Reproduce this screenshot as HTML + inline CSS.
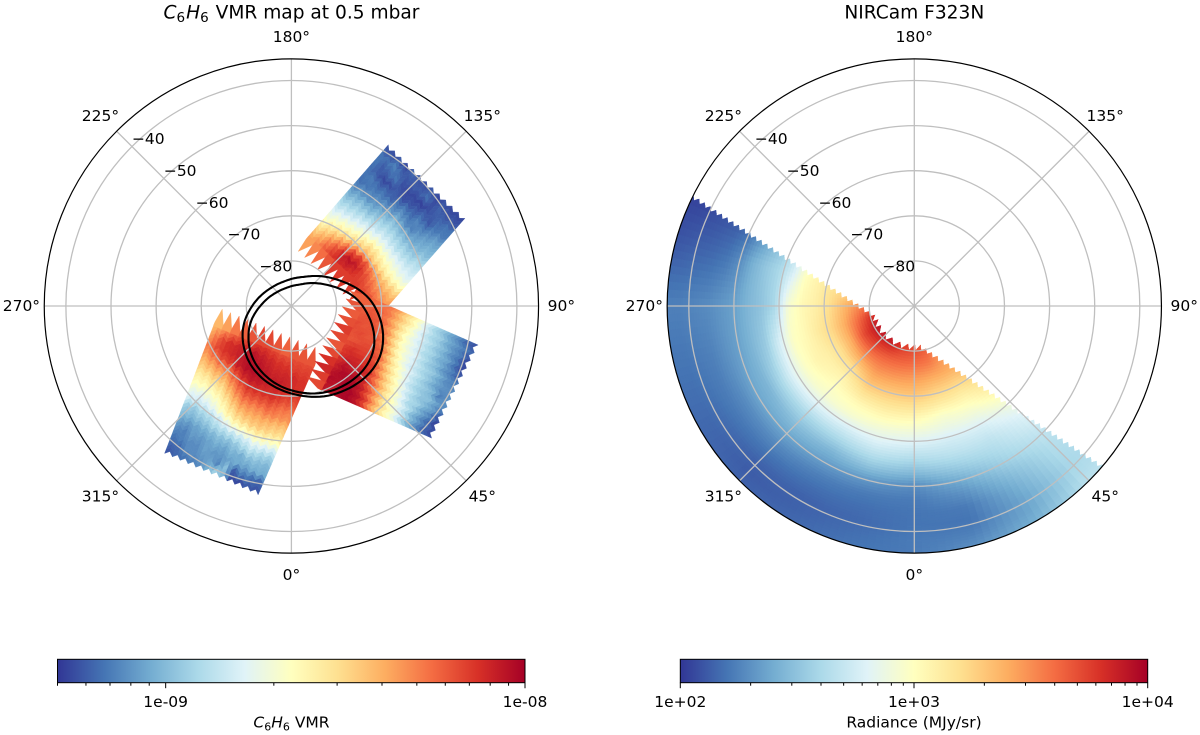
<!DOCTYPE html>
<html lang="en">
<head>
<meta charset="utf-8">
<title>C6H6 VMR map and NIRCam F323N radiance</title>
<style>
html,body{margin:0;padding:0;background:#fff;}
svg{display:block;}
text{font-family:"DejaVu Sans","Liberation Sans",sans-serif;fill:#000;}
</style>
</head>
<body>
<svg id="fig" xmlns="http://www.w3.org/2000/svg" width="1200" height="735" viewBox="0 0 1200 735">
  <defs>
    <clipPath id="limb-clip"><polygon id="limb-poly" points="0,0"></polygon></clipPath>
    <linearGradient id="cmap-grad" x1="0" y1="0" x2="1" y2="0"></linearGradient>
  </defs>
  <g id="panel-left"></g>
  <g id="panel-right"></g>
  <text x="291.5" y="18.5" text-anchor="middle" font-size="18.6"><tspan font-style="italic">C</tspan><tspan font-size="13.5" dy="3.5">6</tspan><tspan font-style="italic" dy="-3.5" dx="1">H</tspan><tspan font-size="13.5" dy="3.5">6</tspan><tspan dy="-3.5" dx="1"> VMR map at 0.5 mbar</tspan></text>
  <text x="914.3" y="18.5" text-anchor="middle" font-size="18.6">NIRCam F323N</text>
  <g id="cbar-left"></g>
  <g id="cbar-right"></g>
  <text x="291.5" y="727.5" text-anchor="middle" font-size="15.5"><tspan font-style="italic">C</tspan><tspan font-size="11" dy="3">6</tspan><tspan font-style="italic" dy="-3">H</tspan><tspan font-size="11" dy="3">6</tspan><tspan dy="-3"> VMR</tspan></text>
  <text x="914" y="727.5" text-anchor="middle" font-size="15.5">Radiance (MJy/sr)</text>
</svg>
<script>
// ---------- shared axis data ----------
const latRings = [-80, -70, -60, -50, -40];
const ringLabels = ['\u221280', '\u221270', '\u221260', '\u221250', '\u221240'];
const lonSpokes = [0, 45, 90, 135, 180, 225, 270, 315];
const lonLabels = ['0\u00b0', '45\u00b0', '90\u00b0', '135\u00b0', '180\u00b0', '225\u00b0', '270\u00b0', '315\u00b0'];
const cmapStops = ['#313695', '#4575b4', '#74add1', '#abd9e9', '#e0f3f8', '#ffffbf', '#fee090', '#fdae61', '#f46d43', '#d73027', '#a50026'];

// ---------- VMR colour axis ----------
const vmrMin = 5e-10;
const vmrMax = 1e-8;
const vmrMajorTicks = [1e-9, 1e-8];
const vmrMajorLabels = ['1e-09', '1e-08'];
const vmrMinorTicks = [5e-10, 6e-10, 7e-10, 8e-10, 9e-10, 2e-9, 3e-9, 4e-9, 5e-9, 6e-9, 7e-9, 8e-9, 9e-9];

// ---------- radiance colour axis ----------
const radMin = 100;
const radMax = 10000;
const radMajorTicks = [100, 1000, 10000];
const radMajorLabels = ['1e+02', '1e+03', '1e+04'];
const radMinorTicks = [200, 300, 400, 500, 600, 700, 800, 900, 2000, 3000, 4000, 5000, 6000, 7000, 8000, 9000];

// ---------- VMR swaths: footprint corners [lat, lon] and retrieved values ----------
// Values are percent along the logarithmic VMR colour range; rows run outer to inner.
const swath1Corners = [[-48.3, 149.0], [-46.9, 116.8], [-77.5, 174.7], [-71.5, 78.1]];
const swath1Values = [
  [5,4,6,3,8,5,4,6,3,5,3,3],
  [10,9,12,7,5,6,6,9,4,7,5,5],
  [10,6,8,10,4,3,3,2,4,6,8,10],
  [9,6,3,4,6,4,5,6,8,5,10,11],
  [10,11,8,9,7,10,12,9,13,11,14,17],
  [9,10,12,13,14,15,18,14,12,16,18,20],
  [14,16,15,17,20,22,25,22,20,19,21,23],
  [20,22,24,23,26,29,30,29,27,26,25,28],
  [27,28,30,32,33,35,37,36,33,32,31,33],
  [33,35,37,40,42,44,46,44,42,40,38,37],
  [40,43,46,48,51,55,58,55,50,47,44,42],
  [46,50,55,58,62,66,68,64,60,55,52,50],
  [54,60,66,72,80,86,88,82,74,68,64,62],
  [62,68,76,84,92,96,94,88,82,76,72,70],
  [70,74,82,88,92,92,90,88,86,82,78,75],
  [72,76,80,84,88,88,88,88,86,84,80,78]
];
const swath2Corners = [[-47.7, 78.2], [-47.3, 46.7], [-76.3, 105.9], [-72.8, 9.5]];
const swath2Values = [
  [5,8,4,3,6,12,14,15,14,8,3,4],
  [8,12,11,10,12,14,15,12,18,16,10,8],
  [14,16,15,18,16,20,18,22,24,20,17,15],
  [19,20,22,21,23,26,24,26,25,28,24,22],
  [25,27,26,28,27,29,30,29,31,30,34,33],
  [30,30,32,31,33,34,36,35,38,40,42,44],
  [38,36,37,38,40,39,42,44,47,49,50,52],
  [47,44,43,44,45,46,50,53,56,58,60,62],
  [55,53,50,50,52,56,60,64,67,70,72,74],
  [63,62,60,62,65,70,73,76,80,82,84,88],
  [72,70,72,74,78,82,85,88,90,92,94,96],
  [78,78,80,82,84,86,88,90,94,96,98,99],
  [80,82,84,85,84,86,88,92,94,98,99,98],
  [80,84,85,84,86,85,90,92,96,98,97,95],
  [82,82,84,86,85,84,88,90,92,95,98,96],
  [82,84,83,85,88,86,84,86,90,92,88,86]
];
const swath3Corners = [[-46.9, 319.3], [-47.5, 350.0], [-74.2, 271.8], [-78.2, 394.5]];
const swath3Values = [
  [5,8,10,12,14,20,28,22,4,3,6,5],
  [8,8,14,14,16,18,13,24,6,12,10,8],
  [10,12,14,14,18,16,16,18,20,18,20,20],
  [14,12,17,16,18,20,18,22,20,24,24,22],
  [18,16,18,20,22,24,24,26,30,33,30,28],
  [24,22,24,26,30,32,34,36,38,42,40,38],
  [28,26,30,32,36,42,48,50,52,54,52,50],
  [38,36,38,42,48,54,60,62,64,64,62,60],
  [43,42,45,48,54,62,68,70,70,70,68,66],
  [50,50,52,55,62,70,76,76,76,78,76,74],
  [55,56,60,62,70,78,84,84,84,84,80,78],
  [62,64,68,70,78,85,90,90,90,90,86,84],
  [68,72,76,78,86,92,95,94,92,92,90,88],
  [74,80,86,88,94,97,97,96,94,94,92,90],
  [78,86,90,92,95,97,96,94,92,92,92,90],
  [74,84,90,92,94,96,94,92,90,90,88,88],
  [70,76,82,86,88,90,90,88,86,86,86,86],
  [68,72,78,82,84,86,86,84,82,84,84,84]
];

// ---------- auroral oval contours: latitude at each longitude ----------
const ovalLons = [0, 30, 60, 90, 120, 150, 180, 210, 240, 270, 300, 330];
const ovalOuterLats = [-70.6, -68.0, -67.4, -71.6, -78.3, -82.4, -84.0, -84.3, -83.5, -81.3, -77.5, -73.6];
const ovalInnerLats = [-71.3, -69.0, -69.2, -74.2, -80.7, -84.3, -85.6, -85.8, -85.1, -83.1, -79.1, -74.7];

// ---------- radiance map: percent along logarithmic radiance range ----------
const radianceLats = [-83, -80, -77, -74, -71, -68, -65, -62, -59, -56, -53, -50, -47, -44, -41, -38, -35];
const radianceLons = [240, 255, 270, 285, 300, 315, 330, 345, 360, 375, 390, 405, 420];
const radianceByLon = [
  [60,60,60,58,55,50,44,34,25,19,12,6,4,3,2,1,1],
  [60,60,60,60,58,54,50,38,30,26,21,14,10,8,7,6,5],
  [85,80,74,67,60,55,52,47,30,25,22,18,16,14,13,12,12],
  [94,90,80,70,62,57,52,49,38,27,22,18,15,12,11,10,10],
  [96,94,85,70,60,55,53,48,40,30,22,19,14,11,9,8,8],
  [96,93,84,73,61,54,50,47,39,30,24,19,14,10,7,6,7],
  [98,92,82,75,68,60,52,47,38,30,22,17,12,9,7,7,8],
  [90,87,81,74,67,60,53,46,40,33,25,16,11,9,8,9,10],
  [88,85,80,73,67,60,52,45,38,31,23,14,11,10,10,11,11],
  [82,82,78,71,64,57,48,43,37,33,27,20,15,11,10,12,15],
  [72,72,72,70,63,56,50,44,38,34,31,28,24,21,19,19,21],
  [72,72,72,70,66,60,56,50,44,40,37,34,32,31,30,31,33],
  [72,72,72,70,66,60,56,52,46,42,39,36,34,33,32,33,35]
];
// Observed footprint limits of the radiance map
const limbNormalLon = 326.6;
const limbOffsetColat = 6.4;
const limbValleyColat = 7.3;
const innerEdgeColat = 8.5;
const innerValleyColat = 9.8;

// ---------- geometry ----------
const NS = 'http://www.w3.org/2000/svg';
const degPx = 4.51;
const outerLat = -35.2;
const leftCx = 291.4, rightCx = 914.3, panelCy = 306;
const cbarTop = 659.3, cbarH = 23.4;

function radiusOf(lat) { return (lat + 90) * degPx; }
function polar(lat, lon, cx) {
  const a = lon * Math.PI / 180, r = radiusOf(lat);
  return [cx + r * Math.sin(a), panelCy + r * Math.cos(a)];
}
function make(tag, parent) {
  const e = document.createElementNS(NS, tag);
  parent.appendChild(e);
  return e;
}
function colorAt(t) {
  const c = Math.max(0, Math.min(1, t)) * (cmapStops.length - 1);
  const i = Math.min(cmapStops.length - 2, Math.floor(c)), f = c - i;
  const p = s => [parseInt(s.slice(1, 3), 16), parseInt(s.slice(3, 5), 16), parseInt(s.slice(5, 7), 16)];
  const a = p(cmapStops[i]), b = p(cmapStops[i + 1]);
  return 'rgb(' + a.map((v, k) => Math.round(v + (b[k] - v) * f)).join(',') + ')';
}
function logNorm(v, lo, hi) { return Math.log(v / lo) / Math.log(hi / lo); }
function pctToVmr(p) { return vmrMin * Math.pow(vmrMax / vmrMin, p / 100); }
function pctToRad(p) { return radMin * Math.pow(radMax / radMin, p / 100); }
function vmrColor(p) { return colorAt(logNorm(pctToVmr(p), vmrMin, vmrMax)); }
function radColor(p) { return colorAt(logNorm(pctToRad(p), radMin, radMax)); }

// ---------- VMR swaths ----------
function drawSwath(parent, corners, values, label) {
  const g = make('g', parent);
  
  
  const c = corners.map(q => polar(q[0], q[1], leftCx));
  const rows = values.length, cols = values[0].length;
  const rowH = 1 / (rows + 1), subH = rowH / 2, subU = 1 / (cols * 2), sk = subH * 0.95;
  function uv(u, v) {
    const x = (1 - v) * ((1 - u) * c[0][0] + u * c[1][0]) + v * ((1 - u) * c[2][0] + u * c[3][0]);
    const y = (1 - v) * ((1 - u) * c[0][1] + u * c[1][1]) + v * ((1 - u) * c[2][1] + u * c[3][1]);
    return x.toFixed(1) + ',' + y.toFixed(1);
  }
  function sample(fr, fc) {
    const r = Math.max(0, Math.min(rows - 1, fr)), q = Math.max(0, Math.min(cols - 1, fc));
    const r0 = Math.floor(r), q0 = Math.floor(q);
    const r1 = Math.min(rows - 1, r0 + 1), q1 = Math.min(cols - 1, q0 + 1);
    const a = r - r0, b = q - q0;
    return (1 - a) * ((1 - b) * values[r0][q0] + b * values[r0][q1]) + a * ((1 - b) * values[r1][q0] + b * values[r1][q1]);
  }
  const zig = k => (k % 2 ? sk : 0);
  for (let si = 0; si < (rows - 1) * 2; si++) {
    for (let sj = 0; sj < cols * 2; sj++) {
      const u0 = sj * subU, u1 = (sj + 1) * subU, v0 = si * subH;
      const pts = [uv(u0, v0 + zig(sj)), uv(u1, v0 + zig(sj + 1)), uv(u1, v0 + subH + zig(sj + 1)), uv(u0, v0 + subH + zig(sj))];
      const val = sample((si + 0.5) / 2 - 0.25, (sj + 0.5) / 2 - 0.5 + 0.25);
      const p = make('polygon', g);
      
      
      p.setAttribute('points', pts.join(' '));
      const col = vmrColor(val);
      p.setAttribute('fill', col);
      p.setAttribute('stroke', col);
      p.setAttribute('stroke-width', '0.4');
    }
  }
  const lastRow = values[rows - 1];
  lastRow.forEach((val, j) => {
    const u0 = j / cols, u1 = (j + 1) / cols, v0 = (rows - 1) * rowH;
    const pts = [uv(u0, v0 - 0.3 * rowH), uv(u1, v0 - 0.3 * rowH), uv(u1, v0 + 0.2 * rowH), uv(u0 + 0.25 / cols, v0 + 2 * rowH), uv(u0, v0 + 0.2 * rowH)];
    const p = make('polygon', g);
    
    
    p.setAttribute('points', pts.join(' '));
    const col = vmrColor(val);
    p.setAttribute('fill', col);
    p.setAttribute('stroke', col);
    p.setAttribute('stroke-width', '0.4');
  });
}

// ---------- radiance mesh with bilinear shading between samples ----------
function drawRadiance(parent) {
  const g = make('g', parent);
  
  
  g.setAttribute('clip-path', 'url(#limb-clip)');
  const subLon = 8, subLat = 5;
  for (let a = 0; a < radianceLons.length - 1; a++) {
    for (let b = 0; b < radianceLats.length - 1; b++) {
      for (let m = 0; m < subLon; m++) {
        for (let n = 0; n < subLat; n++) {
          const fa = (m + 0.5) / subLon, fb = (n + 0.5) / subLat;
          const val = (1 - fa) * ((1 - fb) * radianceByLon[a][b] + fb * radianceByLon[a][b + 1])
                    + fa * ((1 - fb) * radianceByLon[a + 1][b] + fb * radianceByLon[a + 1][b + 1]);
          const lo0 = radianceLons[a] + (radianceLons[a + 1] - radianceLons[a]) * m / subLon;
          const lo1 = radianceLons[a] + (radianceLons[a + 1] - radianceLons[a]) * (m + 1) / subLon;
          const la0 = radianceLats[b] + (radianceLats[b + 1] - radianceLats[b]) * n / subLat;
          const la1 = radianceLats[b] + (radianceLats[b + 1] - radianceLats[b]) * (n + 1) / subLat;
          const pts = [polar(la0, lo0, rightCx), polar(la0, lo1, rightCx), polar(la1, lo1, rightCx), polar(la1, lo0, rightCx)];
          const p = make('polygon', g);
          
          
          p.setAttribute('points', pts.map(q => q[0].toFixed(1) + ',' + q[1].toFixed(1)).join(' '));
          const col = radColor(val);
          p.setAttribute('fill', col);
          p.setAttribute('stroke', col);
          p.setAttribute('stroke-width', '0.6');
        }
      }
    }
  }
}

function buildLimbClip() {
  const lon0 = limbNormalLon * Math.PI / 180;
  const nx = Math.sin(lon0), ny = Math.cos(lon0), tx = ny, ty = -nx;
  const R = radiusOf(outerLat);
  const dTip = limbOffsetColat * degPx;
  const sMax = Math.sqrt(R * R - dTip * dTip);
  const pts = [];
  let k = 0;
  for (let s = -sMax; s <= sMax; s += 3.4, k++) {
    const d = (k % 2 ? limbValleyColat : limbOffsetColat) * degPx;
    let x = nx * d + tx * s, y = ny * d + ty * s;
    const r = Math.hypot(x, y);
    const rIn = (k % 2 ? innerValleyColat : innerEdgeColat) * degPx;
    if (r < rIn) { x *= rIn / r; y *= rIn / r; }
    if (r > R) { x *= R / r; y *= R / r; }
    pts.push((rightCx + x).toFixed(1) + ',' + (panelCy + y).toFixed(1));
  }
  const endLon = Math.atan2(nx * dTip + tx * sMax, ny * dTip + ty * sMax) * 180 / Math.PI;
  const startLon = Math.atan2(nx * dTip - tx * sMax, ny * dTip - ty * sMax) * 180 / Math.PI;
  for (let l = endLon; l >= startLon; l -= 1) {
    const q = polar(outerLat, l, rightCx);
    pts.push(q[0].toFixed(1) + ',' + q[1].toFixed(1));
  }
  document.getElementById('limb-poly').setAttribute('points', pts.join(' '));
}

// ---------- grid, border, tick labels ----------
function drawGrid(parent, cx) {
  const g = make('g', parent);
  
  
  latRings.forEach(lat => {
    const c = make('circle', g);
    
    
    c.setAttribute('cx', cx);
    c.setAttribute('cy', panelCy);
    c.setAttribute('r', radiusOf(lat));
    c.setAttribute('fill', 'none');
    c.setAttribute('stroke', '#bfbfbf');
    c.setAttribute('stroke-width', '1.3');
  });
  lonSpokes.forEach(lon => {
    const end = polar(outerLat, lon, cx);
    const l = make('line', g);
    
    
    l.setAttribute('x1', cx);
    l.setAttribute('y1', panelCy);
    l.setAttribute('x2', end[0]);
    l.setAttribute('y2', end[1]);
    l.setAttribute('stroke', '#bfbfbf');
    l.setAttribute('stroke-width', '1.3');
  });
}
function drawFrame(parent, cx) {
  const b = make('circle', parent);
  
  
  b.setAttribute('cx', cx);
  b.setAttribute('cy', panelCy);
  b.setAttribute('r', radiusOf(outerLat));
  b.setAttribute('fill', 'none');
  b.setAttribute('stroke', '#000');
  b.setAttribute('stroke-width', '1.2');
  lonSpokes.forEach((lon, i) => {
    const a = lon * Math.PI / 180;
    const t = make('text', parent);
    
    
    t.setAttribute('x', cx + 270 * Math.sin(a));
    t.setAttribute('y', panelCy + 269 * Math.cos(a) + 5.2);
    t.setAttribute('text-anchor', 'middle');
    t.setAttribute('font-size', '15.5');
    t.textContent = lonLabels[i];
  });
  latRings.forEach((lat, i) => {
    const q = polar(lat, 225, cx);
    const t = make('text', parent);
    
    
    t.setAttribute('x', q[0]);
    t.setAttribute('y', q[1] - 2.5);
    t.setAttribute('font-size', '15.5');
    t.textContent = ringLabels[i];
  });
}
function drawOval(parent, lats, label) {
  // periodic cubic through the contour samples, evaluated in longitude
  const n = lats.length, step = ovalLons[1] - ovalLons[0], dense = 12;
  let d = '';
  for (let i = 0; i < n; i++) {
    const y0 = lats[(i - 1 + n) % n], y1 = lats[i], y2 = lats[(i + 1) % n], y3 = lats[(i + 2) % n];
    for (let k = 0; k < dense; k++) {
      const t = k / dense;
      const lat = 0.5 * (2 * y1 + (y2 - y0) * t + (2 * y0 - 5 * y1 + 4 * y2 - y3) * t * t + (3 * y1 - y0 - 3 * y2 + y3) * t * t * t);
      const q = polar(lat, ovalLons[i] + step * t, leftCx);
      d += (d ? 'L' : 'M') + q[0].toFixed(1) + ' ' + q[1].toFixed(1);
    }
  }
  const path = make('path', parent);
  
  
  path.setAttribute('d', d + 'Z');
  path.setAttribute('fill', 'none');
  path.setAttribute('stroke', '#000');
  path.setAttribute('stroke-width', '2.1');
}

// ---------- colorbars ----------
function drawColorbar(parent, x0, x1, lo, hi, majors, labels, minors) {
  const axis = v => x0 + (x1 - x0) * logNorm(v, lo, hi);
  const r = make('rect', parent);
  
  
  r.setAttribute('x', x0);
  r.setAttribute('y', cbarTop);
  r.setAttribute('width', x1 - x0);
  r.setAttribute('height', cbarH);
  r.setAttribute('fill', 'url(#cmap-grad)');
  r.setAttribute('stroke', '#000');
  r.setAttribute('stroke-width', '1');
  const drawTick = (v, len, name) => {
    const l = make('line', parent);
    
    
    l.setAttribute('x1', axis(v));
    l.setAttribute('x2', axis(v));
    l.setAttribute('y1', cbarTop + cbarH);
    l.setAttribute('y2', cbarTop + cbarH + len);
    l.setAttribute('stroke', '#000');
    l.setAttribute('stroke-width', '1');
  };
  minors.forEach(v => drawTick(v, 3, 'colorbar-minor-tick'));
  majors.forEach((v, i) => {
    drawTick(v, 5.5, 'colorbar-major-tick');
    const t = make('text', parent);
    
    
    t.setAttribute('x', axis(v));
    t.setAttribute('y', 707);
    t.setAttribute('text-anchor', 'middle');
    t.setAttribute('font-size', '15.5');
    t.textContent = labels[i];
  });
}

// ---------- build ----------
const grad = document.getElementById('cmap-grad');
cmapStops.forEach((c, i) => {
  const s = make('stop', grad);
  s.setAttribute('offset', i / (cmapStops.length - 1));
  s.setAttribute('stop-color', c);
});
buildLimbClip();
const left = document.getElementById('panel-left');
const right = document.getElementById('panel-right');
drawSwath(left, swath3Corners, swath3Values, 'vmr-swath-south-west');
drawSwath(left, swath1Corners, swath1Values, 'vmr-swath-north-east');
drawSwath(left, swath2Corners, swath2Values, 'vmr-swath-south-east');
drawGrid(left, leftCx);
drawOval(left, ovalOuterLats, 'auroral-oval-outer');
drawOval(left, ovalInnerLats, 'auroral-oval-inner');
drawFrame(left, leftCx);
drawRadiance(right);
drawGrid(right, rightCx);
drawFrame(right, rightCx);
drawColorbar(document.getElementById('cbar-left'), 57.5, 525, vmrMin, vmrMax, vmrMajorTicks, vmrMajorLabels, vmrMinorTicks);
drawColorbar(document.getElementById('cbar-right'), 680.3, 1147.7, radMin, radMax, radMajorTicks, radMajorLabels, radMinorTicks);
</script>
</body>
</html>
